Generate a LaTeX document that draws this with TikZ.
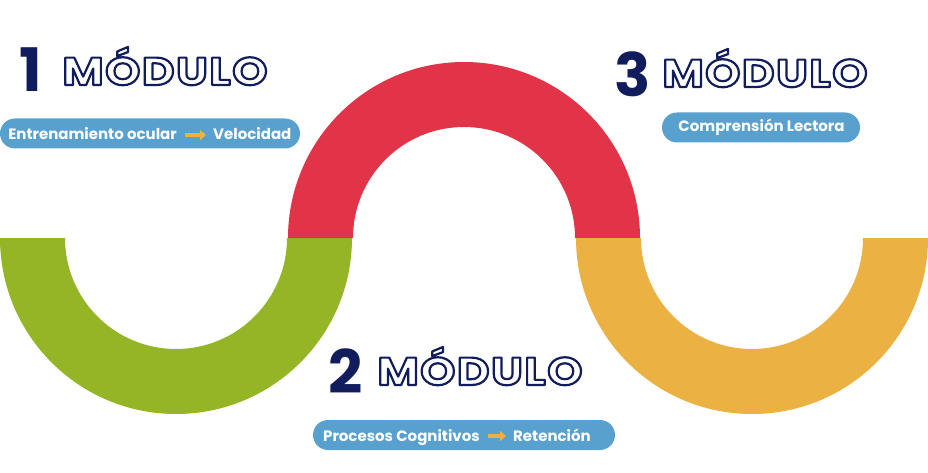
\documentclass[tikz,border=0pt]{standalone}
\usepackage{fontspec}
\setmainfont{Poppins}
\usetikzlibrary{arrows.meta}
\definecolor{mod_green}{RGB}{148, 181, 38}
\definecolor{mod_red}{RGB}{225, 52, 72}
\definecolor{mod_orange}{RGB}{236, 177, 67}
\definecolor{mod_blue}{RGB}{88, 160, 206}
\definecolor{mod_navy}{RGB}{16, 28, 92}
\tikzstyle{num}=[text=mod_navy,font=\fontsize{60}{60}\selectfont\bfseries,
  inner sep=0pt,anchor=base]
\tikzstyle{modname}=[font=\fontsize{39}{39}\selectfont\bfseries\addfontfeature{FakeStretch=1.15,LetterSpace=4},
  inner sep=0pt,anchor=base]
\tikzstyle{pill}=[fill=mod_blue,rounded corners=15pt,minimum height=30pt,inner sep=0pt]
\tikzstyle{ptext}=[text=white,font=\fontsize{15}{15}\selectfont\bfseries,inner sep=0pt]
\tikzstyle{go}=[draw=mod_orange,line width=3.2pt,-{Triangle[length=6pt,width=10pt]},
  shorten <=8pt,shorten >=7pt]
\newcommand{\modword}{{\color{white}\special{pdf:literal direct 0.063 0.11 0.36 RG 2.2 w 1 j 2 Tr}MÓDULO\special{pdf:literal direct 0 Tr}}}

\begin{document}
\begin{tikzpicture}[x=1pt,y=1pt]
    \useasboundingbox (0,0) rectangle (928,472);
    \fill[mod_green] (0,234) arc[start angle=180,end angle=360,radius=176]
      -- (287,234) arc[start angle=0,end angle=-180,radius=111] -- cycle;
    \fill[mod_red] (288,234) arc[start angle=180,end angle=0,radius=176]
      -- (575,234) arc[start angle=0,end angle=180,radius=111] -- cycle;
    \fill[mod_orange] (576,234) arc[start angle=180,end angle=360,radius=176]
      -- (863,234) arc[start angle=0,end angle=-180,radius=111] -- cycle;
    \node [style=num] (n1) at (31,380) {1};
    \node [style=modname] (m1) at (165,387) {\modword};
    \node [style=num] (n2) at (346,79) {2};
    \node [style=modname] (m2) at (480,87) {\modword};
    \node [style=num] (n3) at (632.5,375) {3};
    \node [style=modname] (m3) at (765,385) {\modword};
    \node [style=pill,minimum width=300pt] (p1) at (150,338.5) {};
    \node [style=pill,minimum width=302pt] (p2) at (464,37) {};
    \node [style=pill,minimum width=198pt] (p3) at (761,344.5) {};
    \node [style=ptext,anchor=base east] (t1a) at (177,332) {Entrenamiento ocular};
    \node [style=ptext,anchor=base west] (t1b) at (213,332) {Velocidad};
    \node [style=ptext,anchor=base east] (t2a) at (480,31) {Procesos Cognitivos};
    \node [style=ptext,anchor=base west] (t2b) at (513,31) {Retención};
    \node [style=ptext,anchor=base] (t3) at (761.5,340) {Comprensión Lectora};
    \draw [style=go] ([yshift=5pt]t1a.base east) to ([yshift=5pt]t1b.base west);
    \draw [style=go] ([yshift=5pt]t2a.base east) to ([yshift=5pt]t2b.base west);
  \end{tikzpicture}
\end{document}
